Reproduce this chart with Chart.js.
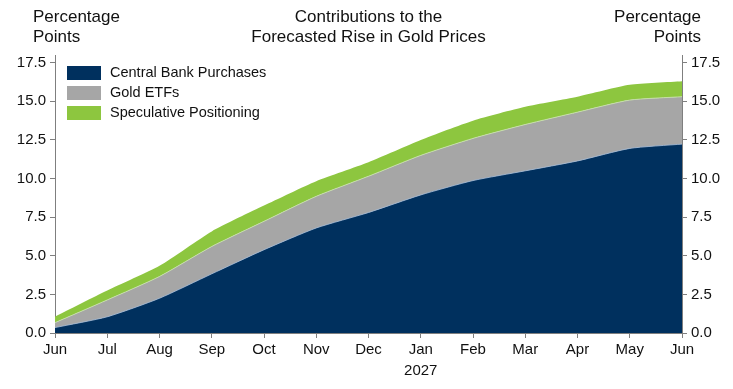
<!DOCTYPE html>
<html>
<head>
<meta charset="utf-8">
<script src="https://cdn.jsdelivr.net/npm/chart.js@4/dist/chart.umd.min.js"></script>
<style>
html,body{margin:0;padding:0;background:#fff;}
#wrap{width:733px;height:389px;position:relative;}
</style>
</head>
<body>
<div id="wrap"><canvas id="c" width="733" height="389"></canvas></div>
<script>
const months = ['Jun','Jul','Aug','Sep','Oct','Nov','Dec',['Jan','2027'],'Feb','Mar','Apr','May','Jun'];
const centralBank = [0.35, 1.05, 2.25, 3.83, 5.39, 6.80, 7.80, 8.94, 9.87, 10.50, 11.14, 11.95, 12.23];
const goldETFs = [0.32, 1.09, 1.41, 1.77, 1.84, 2.05, 2.35, 2.56, 2.73, 3.00, 3.16, 3.13, 3.07];
const speculative = [0.39, 0.61, 0.69, 0.98, 1.02, 0.98, 0.91, 1.00, 1.15, 1.15, 1.00, 0.99, 1.00];
const yTicks = [0, 2.5, 5, 7.5, 10, 12.5, 15, 17.5];
const titleLines = ['Contributions to the', 'Forecasted Rise in Gold Prices'];
const axisTitle = ['Percentage', 'Points'];

const FONT = "'Liberation Sans', Arial, sans-serif";
const AXIS = '#7f7f7f';

const headerPlugin = {
  id: 'header',
  afterDraw(chart) {
    const ctx = chart.ctx, ca = chart.chartArea;
    ctx.save();
    ctx.fillStyle = '#111';
    ctx.font = '17px ' + FONT;
    ctx.textBaseline = 'middle';
    ctx.textAlign = 'center';
    const cx = (ca.left + ca.right) / 2;
    ctx.fillText(titleLines[0], cx, 17);
    ctx.fillText(titleLines[1], cx, 37);
    ctx.textAlign = 'left';
    ctx.fillText(axisTitle[0], 33, 17);
    ctx.fillText(axisTitle[1], 33, 37);
    ctx.textAlign = 'right';
    ctx.fillText(axisTitle[0], 701, 17);
    ctx.fillText(axisTitle[1], 701, 37);
    // legend
    ctx.font = '14.5px ' + FONT;
    ctx.textAlign = 'left';
    chart.data.datasets.forEach((ds, i) => {
      const y = 73 + i * 20;
      ctx.fillStyle = ds.backgroundColor;
      ctx.fillRect(67, y - 7, 34, 14);
      ctx.fillStyle = '#111';
      ctx.fillText(ds.label, 110, y);
    });
    ctx.restore();
  }
};

new Chart(document.getElementById('c'), {
  type: 'line',
  data: {
    labels: months,
    datasets: [
      { label: 'Central Bank Purchases', data: centralBank, backgroundColor: '#00305e', borderColor: 'rgba(170,190,215,0.8)', borderWidth: 1, fill: 'origin', pointRadius: 0, tension: 0.2 },
      { label: 'Gold ETFs', data: goldETFs, backgroundColor: '#a6a6a6', borderColor: 'rgba(200,225,170,0.9)', borderWidth: 1, fill: '-1', pointRadius: 0, tension: 0.2 },
      { label: 'Speculative Positioning', data: speculative, backgroundColor: '#8dc63f', borderColor: '#8dc63f', borderWidth: 0, fill: '-1', pointRadius: 0, tension: 0.2 }
    ]
  },
  options: {
    responsive: false,
    animation: false,
    layout: { padding: { top: 55, left: 0, right: 0, bottom: 0 } },
    plugins: { legend: { display: false }, tooltip: { enabled: false }, title: { display: false } },
    scales: {
      x: {
        offset: false,
        grid: { display: true, drawOnChartArea: false, drawTicks: true, tickLength: 5, color: AXIS },
        border: { display: true, color: AXIS },
        ticks: { color: '#111', font: { family: FONT, size: 15, lineHeight: 1.35 }, maxRotation: 0, autoSkip: false, padding: 2 },
        afterFit(s) { s.height = 56; }
      },
      y: {
        stacked: true,
        position: 'left',
        min: 0, max: 18,
        afterBuildTicks(s) { s.ticks = yTicks.map(v => ({ value: v })); },
        grid: { display: true, drawOnChartArea: false, drawTicks: true, tickLength: 5, color: AXIS },
        border: { display: true, color: AXIS },
        ticks: { color: '#111', font: { family: FONT, size: 15 }, padding: 4, callback: v => v.toFixed(1) },
        afterFit(s) { s.width = 55; }
      },
      y2: {
        position: 'right',
        min: 0, max: 18,
        afterBuildTicks(s) { s.ticks = yTicks.map(v => ({ value: v })); },
        grid: { display: true, drawOnChartArea: false, drawTicks: true, tickLength: 5, color: AXIS },
        border: { display: true, color: AXIS },
        ticks: { color: '#111', font: { family: FONT, size: 15 }, padding: 4, callback: v => v.toFixed(1) },
        afterFit(s) { s.width = 51; }
      }
    }
  },
  plugins: [headerPlugin]
});
</script>
</body>
</html>
